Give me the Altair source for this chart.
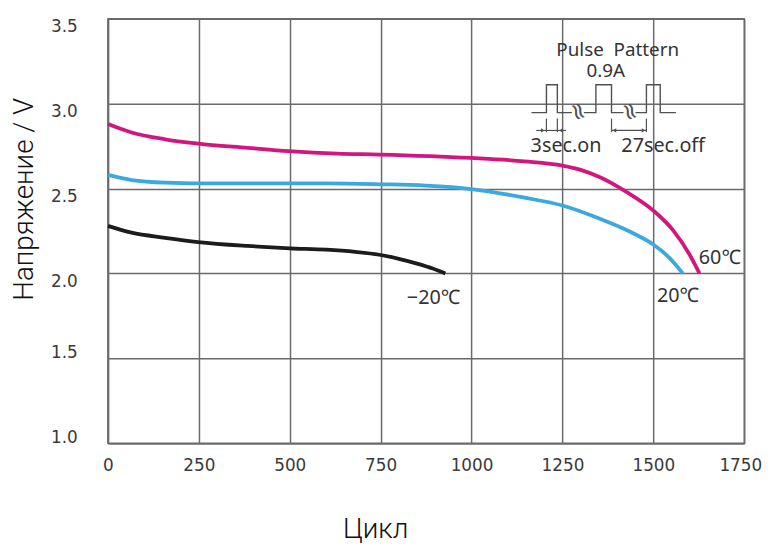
import altair as alt
import pandas as pd

# ---- curve data (cycles vs voltage) ----
cycles_60 = [0, 65, 157, 248, 384, 497, 631, 746, 999, 1146, 1250, 1300, 1355, 1426, 1500, 1554, 1600, 1627]
volts_60 = [2.88, 2.83, 2.79, 2.765, 2.74, 2.72, 2.705, 2.70, 2.68, 2.66, 2.635, 2.61, 2.565, 2.48, 2.37, 2.255, 2.11, 2.00]

cycles_20 = [0, 65, 157, 300, 601, 746, 874, 999, 1146, 1250, 1355, 1446, 1500, 1545, 1581]
volts_20 = [2.58, 2.55, 2.535, 2.53, 2.53, 2.525, 2.517, 2.497, 2.446, 2.40, 2.32, 2.235, 2.17, 2.09, 2.00]

cycles_m20 = [0, 65, 157, 248, 384, 500, 600, 680, 746, 800, 850, 893, 928]
volts_m20 = [2.28, 2.24, 2.21, 2.185, 2.162, 2.148, 2.14, 2.127, 2.11, 2.086, 2.058, 2.029, 2.00]

series_names = ["60℃", "20℃", "−20℃"]
series_colors = ["#d1177f", "#3ba9de", "#1c1c1c"]

x_ticks = [0, 250, 500, 750, 1000, 1250, 1500, 1750]
y_ticks = [1.0, 1.5, 2.0, 2.5, 3.0, 3.5]

# ---- pulse-pattern inset (drawn in data units) ----
pulse_seg = [1, 1, 1, 1, 1, 1, 2, 2, 2, 2, 2, 2, 3, 3, 3, 3, 3, 3]
pulse_x = [1165, 1206, 1206, 1236, 1236, 1276,
           1309, 1342, 1342, 1385, 1385, 1418,
           1451, 1481, 1481, 1519, 1519, 1562]
pulse_y = [2.947, 2.947, 3.111, 3.111, 2.947, 2.947,
           2.947, 2.947, 3.111, 3.111, 2.947, 2.947,
           2.947, 2.947, 3.111, 3.111, 2.947, 2.947]

dim_x = [1178, 1385]
dim_x2 = [1260, 1481]
ext_x = [1206, 1236, 1385, 1481]
arrow_x = [1196, 1246, 1393, 1473]
arrow_shape = ["triangle-right", "triangle-left", "triangle-left", "triangle-right"]
break_x = [1292, 1434]

rows = []
for name, xs, ys in [(series_names[0], cycles_60, volts_60),
                     (series_names[1], cycles_20, volts_20),
                     (series_names[2], cycles_m20, volts_m20)]:
    for i, (a, b) in enumerate(zip(xs, ys)):
        rows.append({"series": name, "cycle": a, "volt": b, "i": i})
df = pd.DataFrame(rows)

pulse_df = pd.DataFrame({"seg": pulse_seg, "x": pulse_x, "y": pulse_y,
                         "o": list(range(len(pulse_x)))})
dim_df = pd.DataFrame({"x": dim_x, "x2": dim_x2})
ext_df = pd.DataFrame({"x": ext_x})
arr_df = pd.DataFrame({"x": arrow_x, "shape": arrow_shape})
brk_df = pd.DataFrame({"x": break_x})

xscale = alt.Scale(domain=[0, 1750], nice=False, zero=False)
yscale = alt.Scale(domain=[1.0, 3.5], nice=False, zero=False)

x_enc = alt.X("cycle:Q", scale=xscale,
              axis=alt.Axis(values=x_ticks, title="Цикл", format="d",
                            titleX=270, titleY=95, titleBaseline="alphabetic",
                            titleAlign="center", titleAnchor="start",
                            labelOffset={"condition": {"test": "datum.value >= 1750", "value": -4},
                                         "value": 0}))
y_enc = alt.Y("volt:Q", scale=yscale,
              axis=alt.Axis(values=y_ticks, title="Напряжение / V", format=".1f",
                            titleX=-76, titleY=182, titleAngle=270,
                            titleBaseline="alphabetic", titleAlign="center",
                            titleAnchor="start",
                            labelOffset={"condition": {"test": "datum.value >= 2", "value": 8},
                                         "value": -6}))

curves = alt.Chart(df).mark_line(strokeWidth=3.8, interpolate="monotone").encode(
    x=x_enc, y=y_enc,
    color=alt.Color("series:N", scale=alt.Scale(domain=series_names, range=series_colors), legend=None),
    order="i:Q",
)

INK = "#505050"
pulse = alt.Chart(pulse_df).mark_line(stroke=INK, strokeWidth=1.4).encode(
    x=alt.X("x:Q", scale=xscale), y=alt.Y("y:Q", scale=yscale),
    detail="seg:N", order="o:Q")

dims = alt.Chart(dim_df).mark_rule(stroke=INK, strokeWidth=1.2).encode(
    x=alt.X("x:Q", scale=xscale), x2="x2:Q", y=alt.datum(2.842))
exts = alt.Chart(ext_df).mark_rule(stroke=INK, strokeWidth=1.2).encode(
    x=alt.X("x:Q", scale=xscale), y=alt.datum(2.912, scale=yscale), y2=alt.datum(2.832))
arrows = alt.Chart(arr_df).mark_point(filled=True, color=INK, size=18, opacity=1).encode(
    x=alt.X("x:Q", scale=xscale), y=alt.datum(2.842),
    shape=alt.Shape("shape:N", scale=None))
breaks = alt.Chart(brk_df).mark_text(text="≈", font="DejaVu Sans", fontSize=24, angle=70, color=INK).encode(
    x=alt.X("x:Q", scale=xscale), y=alt.datum(2.953))

ANN_FONT = "Noto Sans, Open Sans, DejaVu Sans, sans-serif"

def label(txt, x, y, align="center", size=21):
    return alt.Chart(pd.DataFrame({"a": [0]})).mark_text(
        text=txt, font=ANN_FONT, fontSize=size, color="#333333", align=align, baseline="middle"
    ).encode(x=alt.datum(x, scale=xscale), y=alt.datum(y, scale=yscale))

texts = [
    label("Pulse\u00a0\u00a0Pattern", 1402, 3.318, size=19),
    label("0.9A", 1369, 3.19, size=19),
    label("3sec.on", 1260, 2.749, size=20),
    label("27sec.off", 1527, 2.749, size=20),
    label("60℃", 1625, 2.088, align="left", size=20),
    label("20℃", 1510, 1.868, align="left", size=20),
    label("−20℃", 822, 1.857, align="left", size=20),
]

chart = alt.layer(curves, pulse, dims, exts, arrows, breaks, *texts).properties(
    width=643, height=429,
    autosize=alt.AutoSizeParams(type="none"),
    padding={"left": 101, "top": 8, "right": 22, "bottom": 100},
).configure_view(stroke="#6a6a6a", strokeWidth=1.5).configure_axis(
    grid=True, gridColor="#6a6a6a", gridWidth=1.5, gridOpacity=1,
    domain=True, domainColor="#6a6a6a", domainWidth=1.5,
    ticks=False, labelFlush=False, labelOverlap=False,
    labelFont="DejaVu Sans", labelFontSize=17, labelColor="#3a3a3a",
    titleFont="Roboto", titleFontWeight=300, titleFontSize=28, titleColor="#111111",
).configure_axisX(labelPadding=15).configure_axisY(labelPadding=31)

chart.save("out.html", embed_options={"renderer": "svg", "actions": False})
